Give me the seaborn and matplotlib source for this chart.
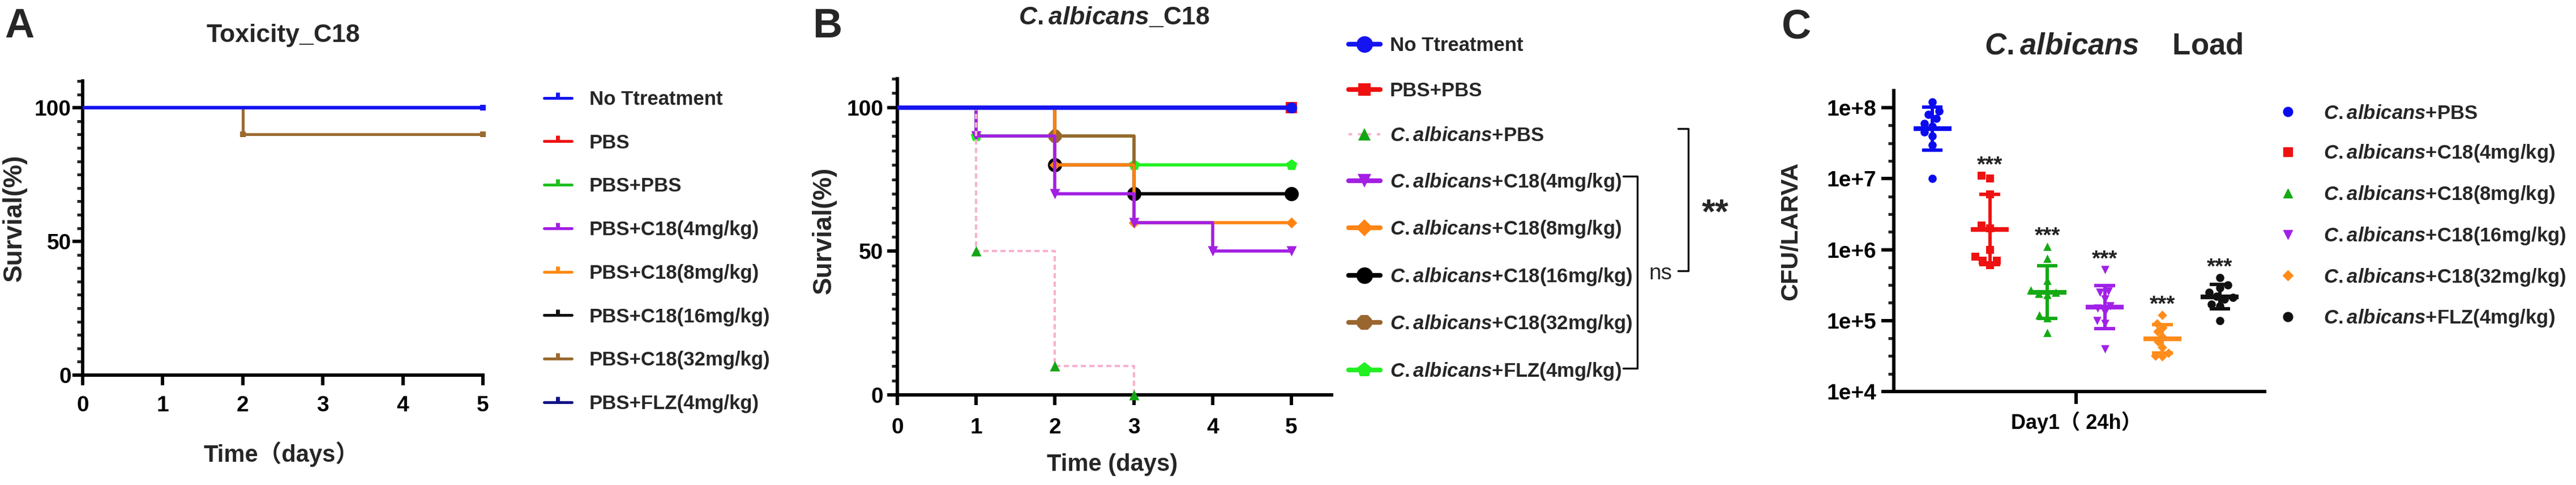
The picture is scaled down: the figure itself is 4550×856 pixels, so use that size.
import numpy as np
import pandas as pd
import matplotlib
matplotlib.use("Agg")
import matplotlib.pyplot as plt
from matplotlib.lines import Line2D
from matplotlib.ticker import FixedLocator, NullFormatter
import seaborn as sns

# ---------------- data ----------------
days = [0, 1, 2, 3, 4, 5]

# panel A: toxicity of C18 (survival %)
tox_groups = ["No Ttreatment", "PBS", "PBS+PBS", "PBS+C18(4mg/kg)", "PBS+C18(8mg/kg)",
              "PBS+C18(16mg/kg)", "PBS+C18(32mg/kg)", "PBS+FLZ(4mg/kg)"]
tox_colors = ["#1414F0", "#EE1111", "#1FBF1F", "#A31FE3", "#FF8A14", "#111111", "#9A6A30", "#101088"]
tox_surv = [
    [100, 100, 100, 100, 100, 100],
    [100, 100, 100, 100, 100, 100],
    [100, 100, 100, 100, 100, 100],
    [100, 100, 100, 100, 100, 100],
    [100, 100, 100, 100, 100, 100],
    [100, 100, 100, 100, 100, 100],
    [100, 100, 90, 90, 90, 90],
    [100, 100, 100, 100, 100, 100],
]

# panel B: C. albicans infection survival (%)
inf_labels = ["No Ttreatment", "PBS+PBS",
              r"$\mathit{C.albicans}$+PBS",
              r"$\mathit{C.albicans}$+C18(4mg/kg)",
              r"$\mathit{C.albicans}$+C18(8mg/kg)",
              r"$\mathit{C.albicans}$+C18(16mg/kg)",
              r"$\mathit{C.albicans}$+C18(32mg/kg)",
              r"$\mathit{C.albicans}$+FLZ(4mg/kg)"]
inf_colors = ["#1414F0", "#EE1111", "#F7B2CF", "#A31FE3", "#FF8414", "#000000", "#9A6630", "#22F022"]
inf_marker_colors = ["#1414F0", "#EE1111", "#14A514", "#A31FE3", "#FF8414", "#000000", "#9A6630", "#22F022"]
inf_markers = ["o", "s", "^", "v", "D", "o", "8", "p"]
inf_surv = [
    [100, 100, 100, 100, 100, 100],
    [100, 100, 100, 100, 100, 100],
    [100, 50, 10, 0, None, None],
    [100, 90, 70, 60, 50, 50],
    [100, 100, 80, 60, 60, 60],
    [100, 100, 80, 70, 70, 70],
    [100, 100, 90, 70, 70, 70],
    [100, 90, 90, 80, 80, 80],
]

# panel C: fungal load, CFU per larva at day 1
load_labels = [r"$\mathit{C.albicans}$+PBS",
               r"$\mathit{C.albicans}$+C18(4mg/kg)",
               r"$\mathit{C.albicans}$+C18(8mg/kg)",
               r"$\mathit{C.albicans}$+C18(16mg/kg)",
               r"$\mathit{C.albicans}$+C18(32mg/kg)",
               r"$\mathit{C.albicans}$+FLZ(4mg/kg)"]
load_groups = ["PBS", "C18_4", "C18_8", "C18_16", "C18_32", "FLZ_4"]
load_colors = ["#0B0BEF", "#EE1111", "#14AA14", "#A020E8", "#FF8C1A", "#111111"]
load_markers = ["o", "s", "^", "v", "D", "o"]
cfu_pbs = [1.2e8, 9e7, 8e7, 7e7, 6e7, 5.5e7, 4.5e7, 4e7, 3e7, 1e7]
cfu_c18_4 = [1.1e7, 1.0e7, 6e6, 2.2e6, 2.0e6, 1.0e6, 8e5, 7e5, 7e5, 6e5]
cfu_c18_8 = [1.1e6, 7.5e5, 3.7e5, 2.7e5, 2.5e5, 2.4e5, 2.3e5, 1.2e5, 1.1e5, 6.8e4]
cfu_c18_16 = [5.2e5, 2.6e5, 2.5e5, 2.0e5, 1.6e5, 1.5e5, 1.3e5, 1.0e5, 9e4, 4e4]
cfu_c18_32 = [1.2e5, 9e4, 8e4, 7e4, 6e4, 5e4, 4.2e4, 3.5e4, 3.2e4, 3.1e4]
cfu_flz_4 = [4e5, 3.2e5, 2.9e5, 2.5e5, 2.2e5, 2.1e5, 2.0e5, 1.7e5, 1.6e5, 1.0e5]
load_stars = ["", "***", "***", "***", "***", "***"]

# ---------------- style ----------------
sns.set_style("ticks")
plt.rcParams["font.family"] = ["Liberation Sans", "Noto Sans CJK SC", "DejaVu Sans"]
plt.rcParams["font.weight"] = "bold"
plt.rcParams["axes.labelweight"] = "bold"
plt.rcParams["mathtext.fontset"] = "custom"
plt.rcParams["mathtext.it"] = "Liberation Sans:italic:bold"
plt.rcParams["mathtext.rm"] = "Liberation Sans:bold"
plt.rcParams["mathtext.bf"] = "Liberation Sans:bold"

W, H = 4550, 856
fig = plt.figure(figsize=(W / 100, H / 100), dpi=100)
fig.patch.set_facecolor("white")


def px_axes(left, top, right, bottom):
    return fig.add_axes([left / W, 1 - bottom / H, (right - left) / W, (bottom - top) / H])


def fx(x):
    return x / W


def fy(y):
    return 1 - y / H


def style_axes(ax):
    sns.despine(ax=ax)
    for sp in ("left", "bottom"):
        ax.spines[sp].set_linewidth(4.3)
        ax.spines[sp].set_color("black")
    ax.tick_params(which="major", length=13, width=4.3, labelsize=28, colors="black")
    ax.tick_params(which="minor", length=7, width=3.6)
    ax.set_facecolor("white")


def km_frame(values):
    s = pd.Series(values, index=days, dtype=float).dropna()
    return pd.DataFrame({"day": s.index.astype(float), "surv": s.values})


def km_events(frame):
    changed = frame["surv"].diff().fillna(0) != 0
    changed.iloc[-1] = True
    return frame[changed]


# ---------------- panel A ----------------
axA = px_axes(146, 143, 853, 662)
order = list(range(len(tox_groups)))[::-1]
for k, i in enumerate(order):
    fr = km_frame(tox_surv[i])
    lw = 4.5 if i == 0 else 3.6
    sns.lineplot(data=fr, x="day", y="surv", drawstyle="steps-post", color=tox_colors[i],
                 lw=lw, ax=axA, zorder=2 + 2 * k, legend=False)
    ev = km_events(fr)
    sns.scatterplot(data=ev, x="day", y="surv", marker="s", s=55, color=tox_colors[i],
                    linewidth=0, ax=axA, zorder=3 + 2 * k, clip_on=False, legend=False)
axA.set_xlim(0, 5)
axA.set_ylim(0, 110)
axA.set_xticks(days)
axA.set_yticks([0, 50, 100])
axA.yaxis.set_minor_locator(FixedLocator([v for v in range(0, 111, 5) if v % 50]))
style_axes(axA)
axA.tick_params(axis="y", which="major", pad=1.5)
axA.tick_params(axis="x", which="major", pad=13)
axA.set_ylabel("Survial(%)", fontsize=33)
axA.yaxis.set_label_coords(-0.139, 0.534)
axA.set_xlabel("Time（days）", fontsize=30)
axA.xaxis.set_label_coords(0.497, -0.225)

handlesA = [Line2D([], [], color=c, lw=3.6, marker=2, markersize=7, mew=5) for c in tox_colors]
fig.legend(handlesA, tox_groups, loc="center left", bbox_to_anchor=(fx(961), fy(444)),
           bbox_transform=fig.transFigure, frameon=False, fontsize=25, borderpad=0,
           borderaxespad=0, handlelength=1.4, handletextpad=0.9, labelspacing=1.26)

# ---------------- panel B ----------------
axB = px_axes(1585, 139, 2352, 697)
inf_lw = [5.5, 4.5, 3.0, 4.0, 4.0, 4.0, 4.0, 4.0]
inf_ms = [14, 14, 13, 13, 10, 18, 18, 15]
order = list(range(len(inf_labels)))[::-1]
for k, i in enumerate(order):
    fr = km_frame(inf_surv[i])
    ls = (0, (2.2, 1.4)) if i == 2 else "-"
    sns.lineplot(data=fr, x="day", y="surv", drawstyle="steps-post", color=inf_colors[i],
                 lw=inf_lw[i], linestyle=ls, ax=axB, zorder=2 + 2 * k, legend=False)
    ev = km_events(fr)
    sns.scatterplot(data=ev, x="day", y="surv", marker=inf_markers[i], s=inf_ms[i] ** 2,
                    color=inf_marker_colors[i], linewidth=0, ax=axB, zorder=3 + 2 * k,
                    clip_on=False, legend=False)
axB.set_xlim(0, 5.51)
axB.set_ylim(0, 110)
axB.set_xticks(days)
axB.set_yticks([0, 50, 100])
axB.yaxis.set_minor_locator(FixedLocator([v for v in range(0, 111, 5) if v % 50]))
style_axes(axB)
axB.tick_params(axis="y", which="major", pad=5)
axB.tick_params(axis="x", which="major", pad=16)
axB.set_ylabel("Survial(%)", fontsize=33)
axB.yaxis.set_label_coords(-0.14, 0.52)
axB.set_xlabel("Time (days)", fontsize=30)
axB.xaxis.set_label_coords(0.495, -0.185)

leg_ms = [21, 16, 16, 17, 15, 21, 21, 20]
handlesB = []
for i in range(len(inf_labels)):
    if i == 2:
        handlesB.append(Line2D([], [], color=inf_colors[i], lw=3, ls=(0, (1.5, 2.5)),
                               marker="^", markersize=leg_ms[i], mfc=inf_marker_colors[i],
                               mec=inf_marker_colors[i], mew=0))
    else:
        handlesB.append(Line2D([], [], color=inf_colors[i], lw=6, marker=inf_markers[i],
                               markersize=leg_ms[i], mfc=inf_marker_colors[i], mew=0))
fig.legend(handlesB, inf_labels, loc="center left", bbox_to_anchor=(fx(2382), fy(369)),
           bbox_transform=fig.transFigure, frameon=False, fontsize=25, borderpad=0,
           borderaxespad=0, handlelength=1.6, handletextpad=0.5, labelspacing=1.34)

# significance brackets next to the legend
def bracket(x, y0, y1, arm):
    fig.add_artist(Line2D([fx(x - arm), fx(x), fx(x), fx(x - arm)],
                          [fy(y0), fy(y0), fy(y1), fy(y1)], color="black", lw=2.4,
                          transform=fig.transFigure))

bracket(2982, 227, 478, 18)
bracket(2892, 311, 650, 25)
fig.text(fx(3030), fy(393), "**", fontsize=44, ha="center", va="baseline")
fig.text(fx(2933), fy(493), "ns", fontsize=28, ha="center", va="baseline", fontweight="normal")

# ---------------- panel C ----------------
axC = px_axes(3345, 160, 4000, 691)
axC.set_yscale("log")
axC.set_ylim(1e4, 10 ** 8.24)
load_values = [cfu_pbs, cfu_c18_4, cfu_c18_8, cfu_c18_16, cfu_c18_32, cfu_flz_4]
df = pd.concat([pd.DataFrame({"group": g, "cfu": v}) for g, v in zip(load_groups, load_values)],
               ignore_index=True)
for i, g in enumerate(load_groups):
    sub = df[df["group"] == g]
    sns.swarmplot(data=sub, x="group", y="cfu", order=load_groups, color=load_colors[i],
                  marker=load_markers[i], size=10.5 if load_markers[i] != "D" else 8.5,
                  linewidth=0, ax=axC, zorder=3)
    logs = np.log10(sub["cfu"].to_numpy())
    m, sd = logs.mean(), logs.std(ddof=1)
    lo, hi = 10 ** (m - sd), 10 ** (m + sd)
    axC.hlines(10 ** m, i - 0.33, i + 0.33, color=load_colors[i], lw=6, zorder=4)
    axC.vlines(i, lo, hi, color=load_colors[i], lw=4.3, zorder=4)
    axC.hlines([lo, hi], i - 0.18, i + 0.18, color=load_colors[i], lw=4.3, zorder=4)
    if load_stars[i]:
        axC.text(i, sub["cfu"].max() * 1.15, load_stars[i], ha="center", va="baseline",
                 fontsize=28, color="#222222")
axC.set_xlim(-0.67, 5.78)
axC.set_xticks([2.5])
axC.set_xticklabels(["Day1（ 24h）"], fontsize=26)
axC.yaxis.set_major_locator(FixedLocator([1e4, 1e5, 1e6, 1e7, 1e8]))
axC.set_yticklabels(["1e+4", "1e+5", "1e+6", "1e+7", "1e+8"])
axC.yaxis.set_minor_locator(FixedLocator([10 ** v for v in np.arange(4, 8.01, 0.25)
                                          if abs(v - round(v)) > 1e-6]))
axC.yaxis.set_minor_formatter(NullFormatter())
style_axes(axC)
axC.tick_params(axis="y", which="major", length=16, pad=6)
axC.tick_params(axis="x", which="major", length=16, pad=9, labelsize=26)
axC.set_xlabel("")
axC.set_ylabel("CFU/LARVA", fontsize=31)
axC.yaxis.set_label_coords(-0.247, 0.534)

handlesC = [Line2D([], [], ls="none", marker=mk, color=c, markersize=12 if mk != "D" else 9)
            for mk, c in zip(load_markers, load_colors)]
fig.legend(handlesC, load_labels, loc="center left", bbox_to_anchor=(fx(4024), fy(382)),
           bbox_transform=fig.transFigure, frameon=False, fontsize=25, borderpad=0,
           borderaxespad=0, handlelength=1.0, handletextpad=1.3, labelspacing=1.03)

# ---------------- titles and panel letters ----------------
fig.text(fx(500), fy(74), "Toxicity_C18", fontsize=32, ha="center", va="baseline")
fig.text(fx(1968), fy(43), r"$\mathit{C.albicans}$_C18", fontsize=32, ha="center", va="baseline")
fig.text(fx(3733), fy(96), r"$\mathit{C.albicans}$    Load", fontsize=38, ha="center", va="baseline")
fig.text(fx(8), fy(66), "A", fontsize=52, ha="left", va="baseline")
fig.text(fx(1435), fy(66), "B", fontsize=52, ha="left", va="baseline")
fig.text(fx(3147), fy(68), "C", fontsize=52, ha="left", va="baseline")

fig.savefig("out.png", dpi=100, facecolor="white")
